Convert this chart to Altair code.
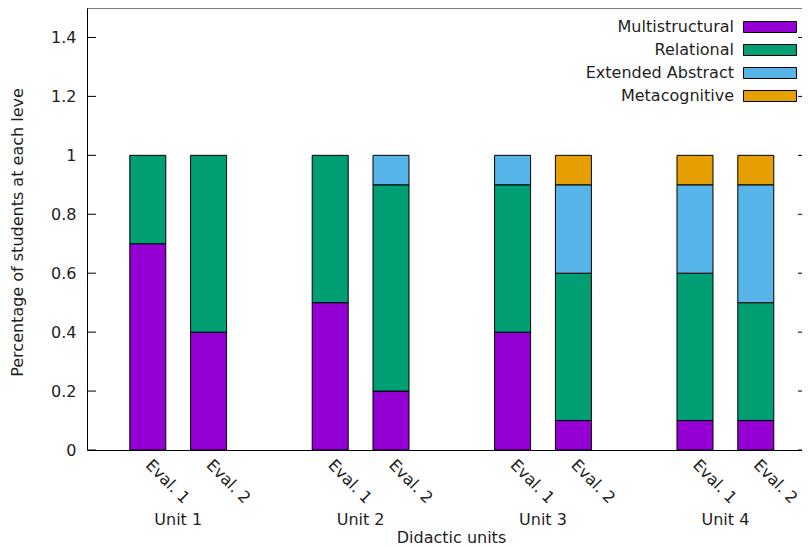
import altair as alt
import pandas as pd

units = ["Unit 1", "Unit 2", "Unit 3", "Unit 4"]
evals = ["Eval. 1", "Eval. 2"]
levels = ["Multistructural", "Relational", "Extended Abstract", "Metacognitive"]
colors = ["#9400D3", "#009E73", "#56B4E9", "#E69F00"]

# one value per bar: U1E1, U1E2, U2E1, U2E2, U3E1, U3E2, U4E1, U4E2
multistructural = [0.7, 0.4, 0.5, 0.2, 0.4, 0.1, 0.1, 0.1]
relational = [0.3, 0.6, 0.5, 0.7, 0.5, 0.5, 0.5, 0.4]
extended_abstract = [0.0, 0.0, 0.0, 0.1, 0.1, 0.3, 0.3, 0.4]
metacognitive = [0.0, 0.0, 0.0, 0.0, 0.0, 0.1, 0.1, 0.1]
y_ticks = [0, 0.2, 0.4, 0.6, 0.8, 1.0, 1.2, 1.4]

FONT = "DejaVu Sans"
TXT = "#1e1e1e"
W, H = 715, 442

series = [multistructural, relational, extended_abstract, metacognitive]
rows = []
bar_pos = []
for ui, u in enumerate(units):
    for ei, e in enumerate(evals):
        k = ui * len(evals) + ei
        pos = ui * 3 + ei
        bar_pos.append(pos)
        for li, lv in enumerate(levels):
            v = series[li][k]
            if v > 0:
                rows.append({"unit": u, "eval": e, "pos": pos, "level": lv,
                             "idx": li, "value": v})
df = pd.DataFrame(rows)
unit_df = pd.DataFrame({"unit": units, "center": [ui * 3 + 0.5 for ui in range(len(units))]})
tick_df = pd.DataFrame({"t": y_ticks})
one = pd.DataFrame({"a": [0]})

xscale = alt.Scale(domain=[-1, 10.76], nice=False, zero=False, padding=0)
yscale = alt.Scale(domain=[0, 1.5], nice=False, padding=0)

x_axis = alt.Axis(
    values=bar_pos,
    labelExpr="datum.value % 3 == 0 ? 'Eval. 1' : 'Eval. 2'",
    labelAngle=45, labelAlign="left", labelBaseline="middle",
    labelPadding=12, ticks=False, grid=False, labelOverlap=False,
    labelFlush=False, domainColor="black", domainWidth=1,
    labelFont=FONT, labelFontSize=16, labelColor=TXT,
    title="Didactic units", titleFont=FONT, titleFontSize=16,
    titleFontWeight="normal", titleColor=TXT,
    titleX=364, titleY=87, titleBaseline="middle", titleAlign="center")
y_axis = alt.Axis(
    values=y_ticks, format="~g", ticks=False, grid=False,
    labelPadding=11, labelOverlap=False, labelFlush=False,
    domainColor="black", domainWidth=1,
    labelFont=FONT, labelFontSize=16, labelColor=TXT,
    title="Percentage of students at each leve", titleFont=FONT,
    titleFontSize=16, titleFontWeight="normal", titleColor=TXT,
    titleX=-70, titleY=224, titleAngle=-90, titleBaseline="middle",
    titleAlign="center")

bars = alt.Chart(df).mark_bar(size=36, stroke="black", strokeWidth=1).encode(
    x=alt.X("pos:Q", scale=xscale, axis=x_axis),
    y=alt.Y("value:Q", stack="zero", scale=yscale, axis=y_axis),
    color=alt.Color("level:N", scale=alt.Scale(domain=levels, range=colors),
                    legend=alt.Legend(
                        title=None, orient="none", legendX=675, legendY=11,
                        symbolType="M-4,-0.83H4V0.83H-4Z", symbolSize=176,
                        symbolStrokeColor="black", symbolStrokeWidth=1,
                        symbolOpacity=1,
                        labelAlign="right", labelOffset=alt.ExprRef("-44"),
                        labelLimit=400,
                        labelFont=FONT, labelFontSize=16, labelColor=TXT,
                        rowPadding=7, padding=0)),
    order=alt.Order("idx:Q", sort="ascending"),
)

left_ticks = alt.Chart(tick_df).mark_rule(color="black", strokeWidth=1).encode(
    y=alt.Y("t:Q", scale=yscale, axis=y_axis), x=alt.value(0), x2=alt.value(9))
right_ticks = alt.Chart(tick_df).mark_rule(color="black", strokeWidth=1).encode(
    y=alt.Y("t:Q", scale=yscale, axis=y_axis), x=alt.value(W - 4), x2=alt.value(W))
top_border = alt.Chart(one).mark_rule(color="black", strokeWidth=1).encode(
    x=alt.value(0), x2=alt.value(W), y=alt.value(0))
unit_labels = alt.Chart(unit_df).mark_text(
    font=FONT, fontSize=16, color=TXT, align="center", baseline="middle").encode(
    x=alt.X("center:Q", scale=xscale, axis=x_axis), y=alt.value(H + 70), text="unit:N")

chart = alt.layer(bars, left_ticks, right_ticks, top_border, unit_labels).properties(
    width=W, height=H,
    autosize=alt.AutoSizeParams(type="none"),
    padding={"left": 79, "top": 0, "right": 0, "bottom": 96},
    background="white",
).configure_view(stroke=None)

chart.save("out.html", embed_options={"renderer": "svg", "actions": False})
